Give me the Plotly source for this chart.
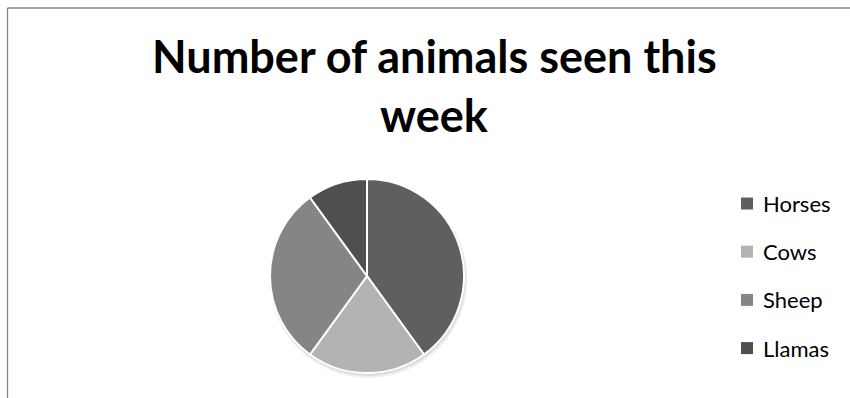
import plotly.graph_objects as go

W, H = 850, 398

title_lines = ["Number of animals seen this", "week"]
labels = ["Horses", "Cows", "Sheep", "Llamas"]
values = [40, 20, 30, 10]
colors = ["#5f5f5f", "#b3b3b3", "#858585", "#4f4f4f"]

# pie geometry (pixels)
cx, cy, r = 367, 276, 97

fig = go.Figure()
fig.add_trace(go.Pie(
    labels=labels, values=values, sort=False, direction="clockwise", rotation=0,
    marker=dict(colors=colors, line=dict(color="white", width=2)),
    textinfo="none", hoverinfo="label+value+percent", showlegend=False,
    domain=dict(x=[(cx - r) / W, (cx + r) / W], y=[(H - cy - r) / H, (H - cy + r) / H]),
))

shapes = []
# soft shadow under pie
for off, rad, op in [(3, r + 2, 0.06), (2, r + 1, 0.08), (1, r, 0.1)]:
    shapes.append(dict(type="circle", xref="paper", yref="paper", layer="below",
                       x0=(cx - rad + off * 0.5) / W, x1=(cx + rad + off * 0.5) / W,
                       y0=(H - cy - rad - off) / H, y1=(H - cy + rad - off) / H,
                       line=dict(width=0), fillcolor=f"rgba(0,0,0,{op})"))
# chart frame (top and left edges visible)
shapes.append(dict(type="line", xref="paper", yref="paper", x0=7.5 / W, x1=1.0,
                   y0=1 - 8 / H, y1=1 - 8 / H, line=dict(color="#868686", width=1.3)))
shapes.append(dict(type="line", xref="paper", yref="paper", x0=7.5 / W, x1=7.5 / W,
                   y0=0, y1=1 - 8 / H, line=dict(color="#868686", width=1.3)))

annotations = []
title_y = [56, 115]
for line, ty in zip(title_lines, title_y):
    annotations.append(dict(text="<b>" + line + "</b>", xref="paper", yref="paper",
                            x=434 / W, y=1 - ty / H, xanchor="center", yanchor="middle",
                            showarrow=False, font=dict(family="Lato", size=45, color="black")))

# legend
leg_x, leg_y0, leg_dy, sq = 747, 203.5, 48.2, 12
for i, (lab, col) in enumerate(zip(labels, colors)):
    yc = leg_y0 + i * leg_dy
    shapes.append(dict(type="rect", xref="paper", yref="paper",
                       x0=(leg_x - sq / 2) / W, x1=(leg_x + sq / 2) / W,
                       y0=1 - (yc + sq / 2) / H, y1=1 - (yc - sq / 2) / H,
                       fillcolor=col, line=dict(width=0)))
    annotations.append(dict(text=lab, xref="paper", yref="paper", x=761 / W, y=1 - yc / H,
                            xanchor="left", yanchor="middle", showarrow=False,
                            font=dict(family="Lato", size=22, color="black")))

fig.update_layout(
    width=W, height=H, margin=dict(l=0, r=0, t=0, b=0),
    paper_bgcolor="white", plot_bgcolor="white",
    shapes=shapes, annotations=annotations, showlegend=False,
)
fig.write_html("out.html", config={"displayModeBar": False},
               post_script="document.body.style.margin='0';")
